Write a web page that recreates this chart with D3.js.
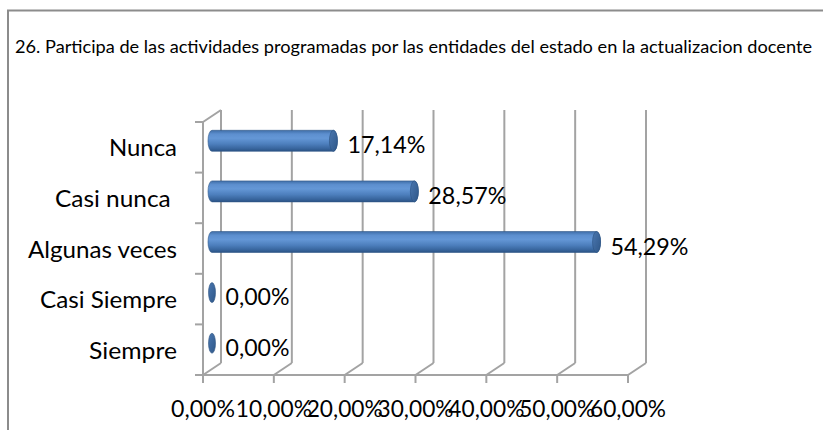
<!DOCTYPE html>
<html>
<head>
<meta charset="utf-8">
<script src="https://cdn.jsdelivr.net/npm/d3@7"></script>
<style>
  html, body { margin: 0; padding: 0; background: #fff; }
  svg { display: block; }
  text { font-family: Lato, "Open Sans", sans-serif; fill: #000; }
</style>
</head>
<body>
<svg id="chart" width="823" height="430"></svg>
<script>
// ---- data ----
const title = "26. Participa de las actividades programadas por las entidades del estado en la actualizacion docente";
const categories = ["Nunca", "Casi nunca ", "Algunas veces", "Casi Siempre", "Siempre"];
const values = [0.1714, 0.2857, 0.5429, 0.0, 0.0];
const tickValues = [0, 0.1, 0.2, 0.3, 0.4, 0.5, 0.6];
const tickLabels = ["0,00%", "10,00%", "20,00%", "30,00%", "40,00%", "50,00%", "60,00%"];

const fmt = v => (v * 100).toFixed(2).replace(".", ",") + "%";

const svg = d3.select("#chart");

// frame
svg.append("path")
  .attr("d", "M8,430 L8,10.5 L823,10.5")
  .attr("fill", "none").attr("stroke", "#8c8c8c").attr("stroke-width", 2);

// title
svg.append("text")
  .attr("x", 15).attr("y", 53)
  .attr("font-size", 17.5)
  .attr("textLength", 797).attr("lengthAdjust", "spacingAndGlyphs")
  .text(title);

// scales
const x = d3.scaleLinear().domain([0, 0.6]).range([203, 628]);
const y = d3.scaleBand().domain(categories).range([122, 375]).padding(0);
const DX = 18, DY = -12;          // depth offset of the back wall
const BX = 9, BY = -6.5;          // bar plane offset
const floorY = 375, topY = 122;
const gridColor = "#a3a3a3";

const grid = svg.append("g").attr("stroke", gridColor).attr("stroke-width", 2).attr("fill", "none");

// back wall vertical gridlines
grid.selectAll("line.v").data(tickValues).enter().append("line")
  .attr("x1", d => x(d) + DX).attr("x2", d => x(d) + DX)
  .attr("y1", topY + DY).attr("y2", floorY + DY);
// floor diagonals
grid.selectAll("line.d").data(tickValues).enter().append("line")
  .attr("x1", d => x(d)).attr("x2", d => x(d) + DX)
  .attr("y1", floorY).attr("y2", floorY + DY);
// floor front line
grid.append("line").attr("x1", x(0)).attr("x2", x(0.6)).attr("y1", floorY).attr("y2", floorY);
// bottom ticks
grid.selectAll("line.t").data(tickValues).enter().append("line")
  .attr("x1", d => x(d)).attr("x2", d => x(d))
  .attr("y1", floorY).attr("y2", floorY + 8);
// left wall: front vertical + top diagonal
grid.append("line").attr("x1", x(0)).attr("x2", x(0)).attr("y1", topY).attr("y2", floorY);
grid.append("line").attr("x1", x(0)).attr("x2", x(0) + DX).attr("y1", topY).attr("y2", topY + DY);
// left category ticks
const bounds = categories.map(c => y(c)).concat([floorY]);
grid.selectAll("line.c").data(bounds).enter().append("line")
  .attr("x1", x(0) - 8).attr("x2", x(0))
  .attr("y1", d => d).attr("y2", d => d);

// gradients
const defs = svg.append("defs");
const g1 = defs.append("linearGradient").attr("id", "barGrad")
  .attr("x1", 0).attr("y1", 0).attr("x2", 0).attr("y2", 1);
[["0%", "#3f6ea8"], ["18%", "#5d8fcf"], ["38%", "#6497d6"], ["65%", "#4d7fbd"], ["88%", "#37649c"], ["100%", "#2a5283"]]
  .forEach(s => g1.append("stop").attr("offset", s[0]).attr("stop-color", s[1]));
const g2 = defs.append("linearGradient").attr("id", "capGrad")
  .attr("x1", 0).attr("y1", 0).attr("x2", 1).attr("y2", 1);
[["0%", "#4a77b0"], ["100%", "#2f5788"]]
  .forEach(s => g2.append("stop").attr("offset", s[0]).attr("stop-color", s[1]));

// bars (cylinders)
const RX = 4, RY = 10.5;
const bars = svg.append("g");
categories.forEach((c, i) => {
  const v = values[i];
  const cy = y(c) + y.bandwidth() / 2 + BY;
  const x0 = x(0) + BX;
  const x1 = x(v) + BX;
  if (v > 0) {
    bars.append("path")
      .attr("d", `M${x0},${cy - RY} A${RX},${RY} 0 0 0 ${x0},${cy + RY} L${x1},${cy + RY} A${RX},${RY} 0 0 0 ${x1},${cy - RY} Z`)
      .attr("fill", "url(#barGrad)")
      .attr("stroke", "#2f5788").attr("stroke-width", 0.6);
  }
  bars.append("ellipse")
    .attr("cx", x1).attr("cy", cy)
    .attr("rx", v > 0 ? RX : 3.5).attr("ry", v > 0 ? RY : 10)
    .attr("fill", "url(#capGrad)")
    .attr("stroke", "#2c5282").attr("stroke-width", 0.6);
});

// category labels
const labelWidths = { "Nunca": 68, "Casi nunca ": 122, "Algunas veces": 149, "Casi Siempre": 137, "Siempre": 88 };
svg.append("g").selectAll("text").data(categories).enter().append("text")
  .attr("x", 177).attr("y", d => y(d) + y.bandwidth() / 2 + 9)
  .attr("text-anchor", "end")
  .attr("font-size", 23.5)
  .attr("xml:space", "preserve")
  .attr("textLength", d => labelWidths[d]).attr("lengthAdjust", "spacingAndGlyphs")
  .text(d => d);

// data labels
svg.append("g").selectAll("text").data(categories).enter().append("text")
  .attr("x", (d, i) => x(values[i]) + BX + (values[i] > 0 ? RX : 3.5) + 10)
  .attr("y", d => y(d) + y.bandwidth() / 2 + 6)
  .attr("font-size", 23.5)
  .attr("textLength", (d, i) => values[i] > 0 ? 78 : 64).attr("lengthAdjust", "spacingAndGlyphs")
  .text((d, i) => fmt(values[i]));

// x tick labels
svg.append("g").selectAll("text").data(tickValues).enter().append("text")
  .attr("x", d => x(d))
  .attr("y", 417)
  .attr("text-anchor", "middle")
  .attr("font-size", 23.5)
  .attr("textLength", (d, i) => i === 0 ? 64 : 76).attr("lengthAdjust", "spacingAndGlyphs")
  .text((d, i) => tickLabels[i]);
</script>
</body>
</html>
